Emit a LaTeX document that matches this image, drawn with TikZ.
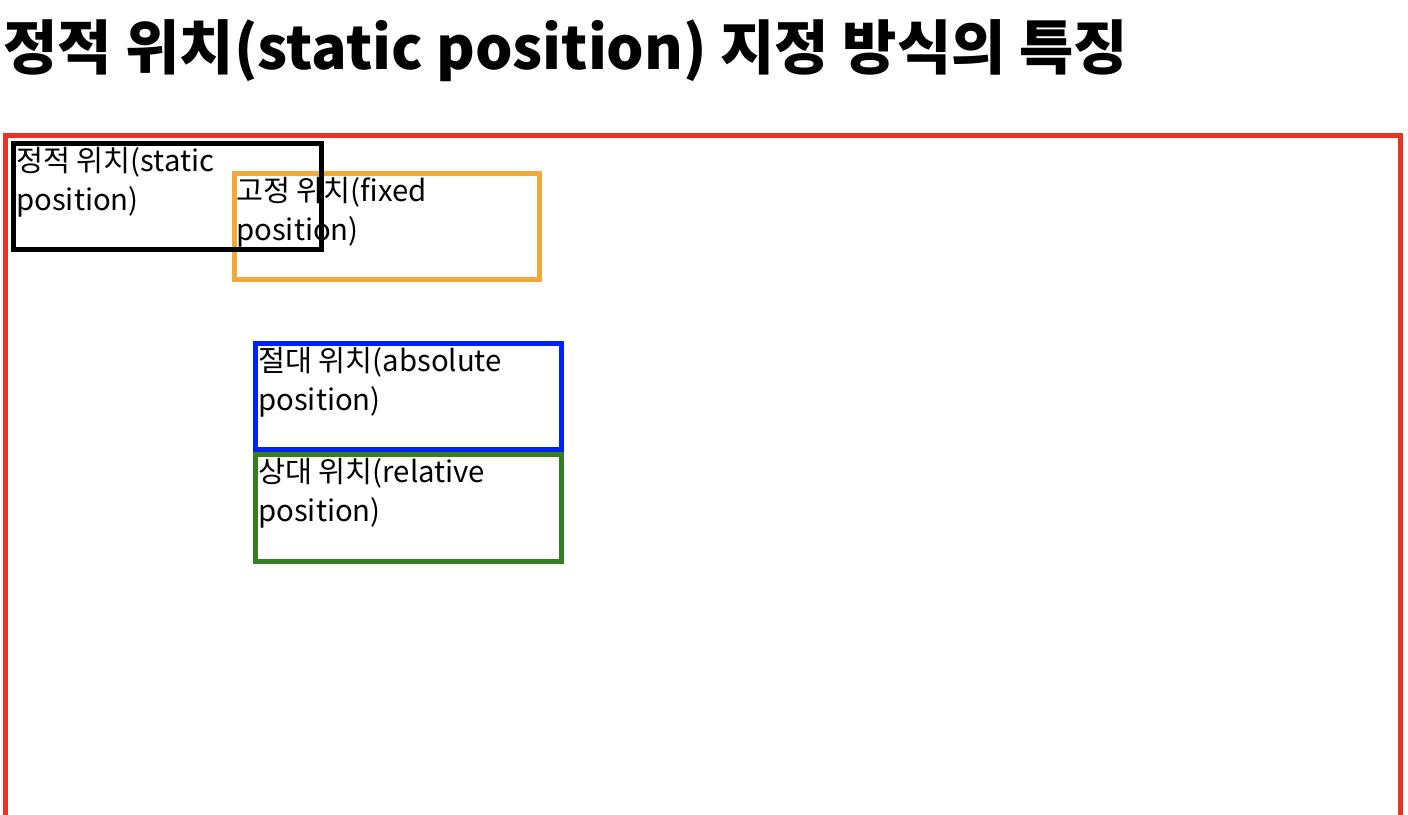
\documentclass[tikz,border=0pt]{standalone}
\usepackage{fontspec}
\setmainfont{Noto Sans CJK KR}
\definecolor{cssred}{RGB}{234,51,35}
\definecolor{cssorange}{RGB}{241,169,59}
\definecolor{cssblue}{RGB}{0,34,245}
\definecolor{cssgreen}{RGB}{56,125,34}
\tikzset{
  posbox/.style={draw=#1, line width=3.75pt, inner sep=0pt, anchor=north west,
    minimum width=229.5pt, minimum height=79.5pt},
  lbl/.style={anchor=base west, inner sep=0pt, align=left,
    font=\fontsize{22pt}{29.25pt}\selectfont}
}
\begin{document}
\begin{tikzpicture}[x=0.75pt,y=-0.75pt]
\useasboundingbox (0,0) rectangle (1408,814);
\clip (0,0) rectangle (1408,814);
\node[anchor=base west, inner sep=0pt, font=\fontsize{44.3pt}{52pt}\selectfont\bfseries] (title) at (3,69) {정적 위치(static position) 지정 방식의 특징};
\draw[cssred, line width=3.75pt] (5.5,830) |- (1400.5,135.5) -- (1400.5,830);
\node[posbox=cssorange, minimum width=228.75pt] (fixedbox) at (231.5,170.5) {};
\node[lbl] (fixedlbl) at ([shift={(4.5,69.5)}]fixedbox.north west) {고정 위치(fixed\\position)};
\node[posbox=black, minimum width=231pt] (staticbox) at (10.5,140.5) {};
\node[lbl] (staticlbl) at ([shift={(5.5,69.5)}]staticbox.north west) {정적 위치(static\\position)};
\node[posbox=cssblue] (absbox) at (252.5,340.5) {};
\node[lbl] (abslbl) at ([shift={(5.5,69.5)}]absbox.north west) {절대 위치(absolute\\position)};
\node[posbox=cssgreen, minimum height=80.25pt] (relbox) at (252.5,451.5) {};
\node[lbl] (rellbl) at ([shift={(5.5,69.5)}]relbox.north west) {상대 위치(relative\\position)};
\end{tikzpicture}
\end{document}
